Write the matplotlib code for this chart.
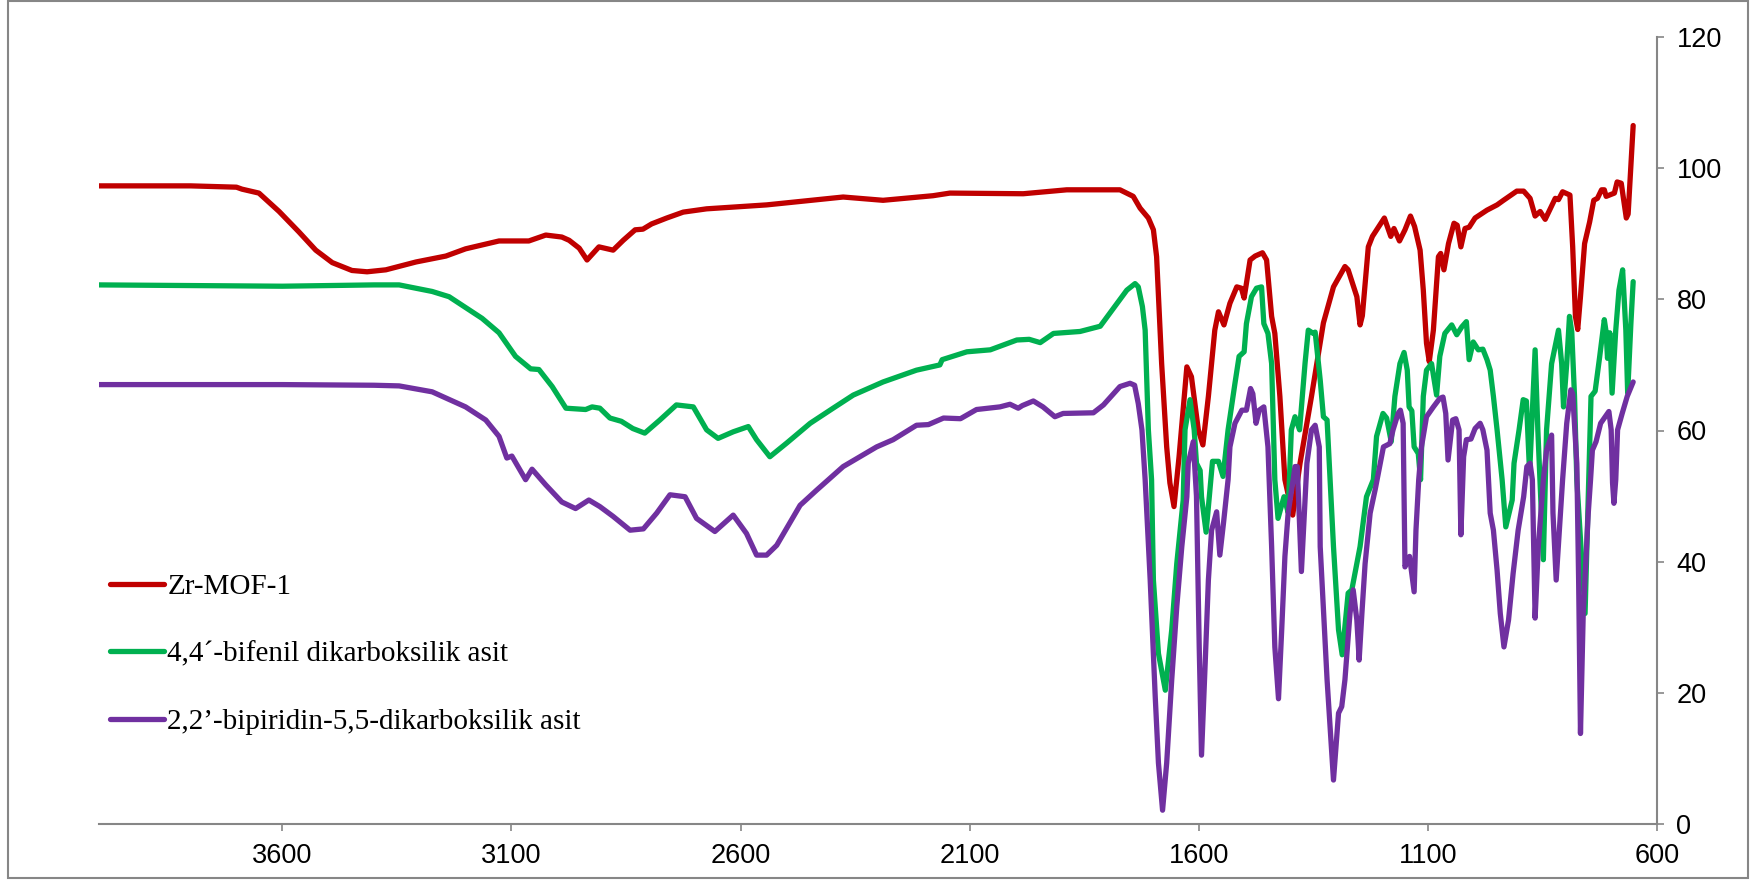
import matplotlib
matplotlib.use("Agg")
import matplotlib.pyplot as plt
from matplotlib.patches import Rectangle

# ---------------- data (wavenumber cm-1, %T) ----------------
labels = ["Zr-MOF-1",
          "4,4\u00b4-bifenil dikarboksilik asit",
          "2,2\u2019-bipiridin-5,5-dikarboksilik asit"]
colors = ["#C00000", "#00B050", "#7030A0"]

red_wn = [4000, 3800, 3700, 3688, 3651, 3607, 3564, 3527, 3491, 3448, 3415, 3374, 3308, 3243, 3200,
          3127, 3062, 3025, 2990, 2974, 2952, 2935, 2909, 2878, 2856, 2830, 2813, 2794, 2761, 2725,
          2674, 2543, 2376, 2289, 2180, 2143, 1983, 1888, 1772, 1743, 1728, 1710, 1699, 1692, 1681,
          1670, 1663, 1654, 1643, 1626, 1616, 1601, 1591, 1579, 1565, 1557, 1545, 1532, 1517, 1507,
          1501, 1488, 1477, 1461, 1452, 1441, 1434, 1423, 1412, 1395, 1379, 1354, 1328, 1306, 1281,
          1274, 1255, 1248, 1243, 1230, 1221, 1195, 1181, 1174, 1162, 1150, 1138, 1129, 1117, 1110,
          1103, 1097, 1088, 1077, 1072, 1065, 1055, 1043, 1036, 1028, 1019, 1010, 997, 971, 949,
          935, 906, 891, 877, 866, 855, 844, 822, 815, 806, 790, 784, 778, 773, 767,
          758, 747, 738, 730, 721, 715, 711, 693, 687, 678, 667, 663, 652]
red_t = [97.3, 97.3, 97.1, 96.8, 96.2, 93.4, 90.3, 87.5, 85.6, 84.4, 84.2, 84.5, 85.7, 86.6, 87.7,
         88.9, 88.9, 89.8, 89.5, 89.0, 87.8, 86.0, 88.0, 87.5, 89.0, 90.6, 90.7, 91.5, 92.4, 93.3,
         93.8, 94.4, 95.6, 95.1, 95.8, 96.2, 96.1, 96.7, 96.7, 95.7, 93.9, 92.4, 90.6, 86.5, 70.2,
         57.5, 52.0, 48.4, 56.0, 69.7, 68.2, 60.1, 57.8, 65.2, 75.3, 78.1, 76.1, 79.4, 81.9, 81.7,
         80.2, 86.0, 86.6, 87.1, 86.0, 77.4, 74.8, 65.2, 52.5, 47.1, 55.0, 65.2, 76.4, 81.9, 85.0,
         84.5, 80.4, 76.1, 77.5, 88.0, 89.6, 92.4, 89.6, 90.8, 88.9, 90.6, 92.7, 91.1, 87.5, 81.4,
         73.3, 70.5, 75.3, 86.5, 87.0, 84.5, 88.5, 91.6, 91.3, 88.0, 90.8, 91.0, 92.4, 93.6, 94.4,
         95.1, 96.5, 96.5, 95.4, 92.7, 93.4, 92.2, 95.4, 95.2, 96.4, 95.9, 88.0, 77.4, 75.4, 80.4,
         88.5, 91.8, 95.1, 95.4, 96.7, 96.7, 95.7, 96.2, 97.9, 97.7, 92.4, 93.0, 106.5]

green_wn = [4000, 3800, 3600, 3400, 3345, 3273, 3236, 3164, 3127, 3091, 3058, 3040, 3011, 2981, 2938,
            2924, 2907, 2885, 2860, 2835, 2809, 2776, 2740, 2703, 2674, 2649, 2616, 2583, 2565, 2536,
            2499, 2448, 2398, 2354, 2289, 2216, 2165, 2160, 2106, 2055, 1997, 1970, 1946, 1917, 1859,
            1815, 1794, 1772, 1757, 1739, 1732, 1723, 1717, 1710, 1703, 1699, 1688, 1673, 1659, 1648,
            1634, 1630, 1619, 1610, 1605, 1597, 1594, 1584, 1570, 1557, 1547, 1536, 1521, 1512, 1501,
            1496, 1485, 1474, 1463, 1458, 1449, 1441, 1434, 1427, 1414, 1405, 1398, 1390, 1380, 1368,
            1361, 1350, 1346, 1335, 1328, 1320, 1306, 1295, 1287, 1281, 1274, 1266, 1248, 1234, 1219,
            1212, 1198, 1190, 1180, 1172, 1161, 1152, 1145, 1141, 1135, 1130, 1121, 1116, 1110, 1103,
            1092, 1087, 1081, 1074, 1063, 1048, 1037, 1026, 1016, 1010, 1001, 990, 980, 971, 964,
            957, 949, 938, 930, 916, 912, 901, 892, 885, 878, 866, 860, 848, 841, 830,
            815, 808, 804, 797, 791, 786, 780, 775, 757, 750, 744, 735, 725, 715, 711,
            708, 703, 698, 690, 683, 675, 668, 664, 657, 652]
green_t = [82.2, 82.1, 82.0, 82.2, 82.2, 81.2, 80.4, 77.1, 74.9, 71.3, 69.4, 69.3, 66.7, 63.4, 63.2,
           63.6, 63.4, 61.9, 61.4, 60.3, 59.6, 61.6, 63.9, 63.6, 60.1, 58.8, 59.8, 60.6, 58.6, 56.0,
           58.1, 61.1, 63.4, 65.4, 67.4, 69.2, 70.0, 70.8, 72.0, 72.3, 73.8, 73.9, 73.4, 74.8, 75.1,
           75.9, 77.9, 80.0, 81.4, 82.4, 81.9, 78.9, 75.3, 60.1, 52.5, 37.2, 26.0, 20.4, 29.6, 39.7,
           49.4, 60.1, 64.7, 60.1, 55.0, 53.9, 49.9, 44.5, 55.3, 55.3, 53.0, 60.1, 67.2, 71.3, 72.0,
           76.3, 80.4, 81.7, 81.9, 76.3, 74.8, 70.2, 52.5, 46.6, 49.9, 47.5, 60.1, 62.1, 60.1, 70.3,
           75.3, 74.8, 75.0, 67.7, 62.1, 61.6, 42.3, 29.6, 25.8, 30.1, 35.2, 35.7, 42.3, 49.9, 52.5,
           59.1, 62.6, 61.9, 58.3, 65.2, 70.2, 71.9, 69.2, 63.6, 63.0, 57.5, 56.5, 52.5, 65.2, 69.2,
           70.2, 68.0, 65.4, 71.3, 74.8, 76.1, 74.6, 75.8, 76.6, 70.8, 73.5, 72.3, 72.4, 70.8, 69.2,
           65.2, 60.1, 52.5, 45.3, 49.4, 55.0, 60.1, 64.7, 64.5, 53.5, 72.3, 60.0, 40.3, 60.1, 70.2,
           75.3, 70.2, 63.6, 70.2, 77.4, 75.0, 65.2, 52.5, 32.1, 50.0, 65.2, 66.0, 71.3, 76.9, 75.0,
           71.0, 74.9, 65.7, 75.3, 81.4, 84.5, 75.3, 65.7, 76.3, 82.7]

purple_wn = [4000, 3800, 3600, 3400, 3345, 3273, 3200, 3156, 3127, 3110, 3099, 3069, 3055, 3025, 2990,
             2960, 2931, 2907, 2878, 2841, 2812, 2783, 2754, 2721, 2696, 2656, 2616, 2587, 2565, 2543,
             2521, 2470, 2434, 2376, 2303, 2267, 2216, 2190, 2157, 2120, 2085, 2034, 2012, 1994, 1985,
             1961, 1940, 1914, 1896, 1830, 1808, 1772, 1750, 1740, 1732, 1724, 1717, 1706, 1695, 1688,
             1679, 1670, 1659, 1648, 1637, 1626, 1623, 1612, 1605, 1599, 1594, 1586, 1579, 1572, 1561,
             1554, 1546, 1536, 1532, 1521, 1506, 1496, 1487, 1482, 1475, 1468, 1458, 1449, 1441, 1434,
             1426, 1419, 1412, 1405, 1394, 1390, 1385, 1376, 1364, 1354, 1346, 1337, 1335, 1320, 1306,
             1295, 1288, 1281, 1270, 1263, 1255, 1250, 1244, 1237, 1226, 1215, 1197, 1183, 1176, 1165,
             1160, 1154, 1150, 1140, 1130, 1126, 1120, 1114, 1103, 1088, 1074, 1067, 1061, 1056, 1046,
             1039, 1032, 1028, 1022, 1016, 1006, 997, 986, 980, 971, 964, 957, 949, 942, 934,
             924, 914, 903, 891, 884, 877, 872, 866, 859, 848, 841, 830, 827, 820, 813,
             806, 797, 788, 784, 775, 771, 767, 761, 750, 745, 741, 733, 723, 705, 700,
             697, 694, 690, 686, 676, 665, 652]
purple_t = [67.0, 67.0, 67.0, 66.9, 66.8, 65.9, 63.6, 61.6, 59.1, 55.8, 56.1, 52.5, 54.1, 51.7, 49.1,
            48.1, 49.4, 48.4, 46.9, 44.8, 45.0, 47.4, 50.2, 49.9, 46.6, 44.6, 47.1, 44.3, 41.0, 41.0,
            42.5, 48.6, 50.9, 54.5, 57.5, 58.6, 60.8, 60.9, 61.9, 61.8, 63.2, 63.6, 64.0, 63.4, 63.8,
            64.5, 63.6, 62.1, 62.6, 62.7, 63.9, 66.7, 67.2, 66.9, 64.1, 60.1, 52.5, 37.2, 19.4, 9.3,
            2.1, 9.3, 22.0, 33.1, 42.3, 49.9, 55.0, 58.3, 50.0, 27.0, 10.5, 24.5, 37.2, 44.8, 47.6,
            41.0, 45.9, 52.5, 57.5, 61.1, 63.1, 63.1, 66.4, 65.6, 61.1, 63.1, 63.6, 57.5, 42.3, 27.0,
            19.1, 29.6, 40.8, 47.4, 52.5, 54.5, 54.5, 38.5, 55.0, 60.1, 60.8, 57.5, 42.3, 22.0, 6.7,
            16.9, 17.9, 22.0, 32.1, 35.7, 31.1, 25.0, 32.1, 39.7, 47.4, 51.0, 57.5, 58.0, 60.1, 62.6,
            63.1, 61.1, 39.2, 40.8, 35.4, 44.8, 52.5, 57.5, 62.1, 63.6, 64.9, 65.1, 62.6, 55.5, 61.6,
            61.8, 60.1, 44.1, 56.0, 58.6, 58.7, 60.3, 61.1, 60.1, 57.0, 47.4, 44.8, 38.7, 32.1, 27.0,
            31.1, 38.2, 44.8, 49.9, 54.5, 55.0, 52.5, 31.4, 42.3, 52.5, 57.0, 59.3, 47.4, 37.2, 44.8,
            52.5, 61.1, 66.2, 65.6, 55.0, 37.0, 13.8, 32.1, 47.4, 52.5, 57.0, 58.3, 61.1, 62.9, 60.1,
            52.0, 48.9, 52.5, 60.1, 62.6, 65.2, 67.4]

x_ticks = [3600, 3100, 2600, 2100, 1600, 1100, 600]
y_ticks = [0, 20, 40, 60, 80, 100, 120]

# ---------------- figure ----------------
W, H = 1762, 881
fig = plt.figure(figsize=(W / 100, H / 100), dpi=100)
ax = fig.add_axes([99 / W, 1 - 824 / H, (1657 - 99) / W, (824 - 37) / H])

series = [(red_wn, red_t), (green_wn, green_t), (purple_wn, purple_t)]
for (wn, t), lab, c in zip(series, labels, colors):
    ax.plot(wn, t, color=c, lw=3.8, label=lab, solid_joinstyle="round",
            solid_capstyle="round")

ax.set_xlim(4000, 600)
ax.set_ylim(0, 120)
ax.set_xticks(x_ticks)
ax.set_yticks(y_ticks)

axis_col = "#868686"
for s in ["left", "top"]:
    ax.spines[s].set_visible(False)
for s in ["right", "bottom"]:
    ax.spines[s].set_color(axis_col)
    ax.spines[s].set_linewidth(1.5)
ax.yaxis.tick_right()
ax.tick_params(axis="both", direction="out", length=5, width=1.2, color=axis_col,
               labelsize=19.5, labelcolor="black")
ax.tick_params(axis="y", pad=9)
ax.tick_params(axis="x", pad=9)
for lbl in ax.get_xticklabels() + ax.get_yticklabels():
    lbl.set_fontfamily("Liberation Sans")

leg = ax.legend(loc="upper left", bbox_to_anchor=(110 / W, 1 - 574 / H),
                bbox_transform=fig.transFigure, frameon=False, borderpad=0,
                borderaxespad=0, handlelength=1.85, handletextpad=0.12,
                labelspacing=1.4,
                prop={"family": "Liberation Serif", "size": 21})
for line in leg.get_lines():
    line.set_linewidth(3.8)
    line.set_solid_capstyle("round")

fig.patches.append(Rectangle((8 / W, 3 / H), (1748 - 8) / W, (878 - 1) / H,
                             transform=fig.transFigure, fill=False,
                             edgecolor=axis_col, lw=1.5))

fig.savefig("out.png", dpi=100)
